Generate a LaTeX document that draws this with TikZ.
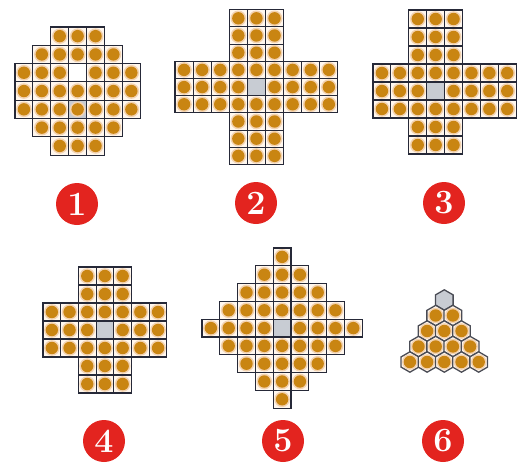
\documentclass[tikz,border=0pt]{standalone}
\usetikzlibrary{shapes.geometric}

\definecolor{gridline}{HTML}{262938}
\definecolor{hexline}{HTML}{4A4C55}
\definecolor{holefill}{HTML}{FFF7EE}
\definecolor{pegring}{HTML}{F4D3B0}
\definecolor{pegbody}{HTML}{C98512}
\definecolor{greyhole}{HTML}{C8CCD3}
\definecolor{badgered}{HTML}{E3241F}

\newcommand{\cw}{18}
\newcommand{\ch}{18}
\newcommand{\setkind}[2]{\expandafter\def\csname kind-#1\endcsname{#2}}
\newcommand{\pegboard}[2]{%
  \foreach \r/\a/\b in {#2} {
    \foreach \c in {\a,...,\b} {
      \ifcsname kind-\r-\c\endcsname
        \edef\kind{\csname kind-\r-\c\endcsname}%
      \else
        \def\kind{pegged}%
      \fi
      \node[hole, \kind] (#1-\r-\c) at (\c*\cw+0.5*\cw, \r*\ch+0.5*\ch) {};
    }
  }
}

\tikzset{
  hole/.style={draw=gridline, fill=holefill, line width=1.1pt, inner sep=0pt,
    minimum width=\cw pt, minimum height=\ch pt},
  pegged/.style={path picture={
    \fill[pegring] (path picture bounding box.center) circle (7.8pt);
    \fill[pegbody] (path picture bounding box.center) circle (6.2pt);}},
  blank/.style={fill=white},
  greyed/.style={fill=greyhole},
  marked/.style={fill=greyhole, pegged},
  hexhole/.style={regular polygon, regular polygon sides=6, shape border rotate=30,
    minimum size=20.4pt, inner sep=0pt, draw=hexline, line width=1.3pt, fill=holefill},
  badge/.style={circle, fill=badgered, minimum size=42pt, inner sep=0pt, text=white,
    font=\fontsize{34}{34}\selectfont\bfseries},
}

\begin{document}
\begin{tikzpicture}[x=1pt, y=-1pt]
\useasboundingbox (0,0) rectangle (524,463);

\begin{scope}[shift={(15,27)}]
\renewcommand{\cw}{17.9}\renewcommand{\ch}{18.3}
\setkind{2-3}{blank}\setkind{4-3}{marked}
\pegboard{french}{0/2/4, 1/1/5, 2/0/6, 3/0/6, 4/0/6, 5/1/5, 6/2/4}
\end{scope}

\begin{scope}[shift={(175,9.7)}]
\renewcommand{\cw}{18.1}\renewcommand{\ch}{17.2}
\setkind{4-4}{greyed}
\pegboard{crossnine}{0/3/5, 1/3/5, 2/3/5, 3/0/8, 4/0/8, 5/0/8, 6/3/5, 7/3/5, 8/3/5}
\end{scope}

\begin{scope}[shift={(373,10)}]
\renewcommand{\cw}{17.9}\renewcommand{\ch}{18}
\setkind{4-3}{greyed}
\pegboard{crosseight}{0/2/4, 1/2/4, 2/2/4, 3/0/7, 4/0/7, 5/0/7, 6/2/4, 7/2/4}
\end{scope}

\begin{scope}[shift={(43,267)}]
\renewcommand{\cw}{17.7}\renewcommand{\ch}{18}
\setkind{3-3}{greyed}
\pegboard{english}{0/2/4, 1/2/4, 2/0/6, 3/0/6, 4/0/6, 5/2/4, 6/2/4}
\end{scope}

\begin{scope}[shift={(202,248)}]
\renewcommand{\cw}{17.8}\renewcommand{\ch}{17.8}
\setkind{4-4}{greyed}
\pegboard{diamond}{0/4/4, 1/3/5, 2/2/6, 3/1/7, 4/0/8, 5/1/7, 6/2/6, 7/3/5, 8/4/4}
\end{scope}

% triangle of hexagons
\foreach \r in {0,...,4} {
  \foreach \k in {0,...,\r} {
    \ifnum\r=0 \def\kind{greyed}\else\def\kind{pegged}\fi
    \node[hexhole, \kind] (tri-\r-\k) at (444.3+\k*17.2-\r*8.6, 300+\r*15.5) {};
  }
}

\node[badge] (tag1) at (77,204) {1};
\node[badge] (tag2) at (256,203) {2};
\node[badge] (tag3) at (444,203) {3};
\node[badge] (tag4) at (104,441) {4};
\node[badge] (tag5) at (283,441) {5};
\node[badge] (tag6) at (443,441) {6};
\end{tikzpicture}
\end{document}
